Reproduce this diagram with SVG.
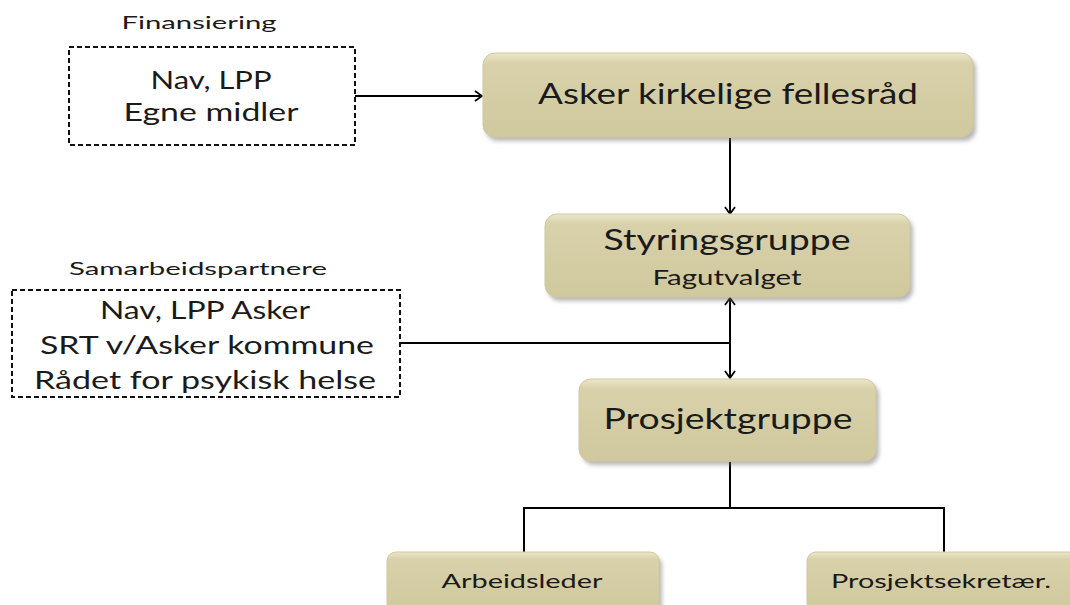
<svg xmlns="http://www.w3.org/2000/svg" width="1070" height="605" viewBox="0 0 1070 605">
<style>
text{font-family:Lato,"Open Sans","Liberation Sans",sans-serif;fill:#1a1a1a;text-anchor:middle}
.box{fill:url(#g);stroke:#cfc8a0;stroke-width:1}
.sh{fill:#6f6f6f;opacity:0.5;filter:url(#blur)}
.dash{fill:none;stroke:#111;stroke-width:2;stroke-dasharray:5 3}
.ln{fill:none;stroke:#000;stroke-width:2}
</style>
<defs>
<linearGradient id="g" x1="0" y1="0" x2="0" y2="1">
<stop offset="0" stop-color="#ece7c9"/>
<stop offset="0.12" stop-color="#d8d1aa"/>
<stop offset="1" stop-color="#d0c99e"/>
</linearGradient>
<filter id="blur" x="-10%" y="-10%" width="120%" height="130%"><feGaussianBlur stdDeviation="2"/></filter>
<marker id="arr" markerWidth="12" markerHeight="12" refX="10" refY="6" orient="auto" markerUnits="userSpaceOnUse">
<polyline points="3,1 10,6 3,11" fill="none" stroke="#000" stroke-width="1.8"/>
</marker>
</defs>

<g id="connectors">
<line class="ln" x1="355" y1="96" x2="482" y2="96" marker-end="url(#arr)"/>
<line class="ln" x1="730" y1="138" x2="730" y2="214" marker-end="url(#arr)"/>
<line class="ln" x1="400" y1="343" x2="730" y2="343"/>
<line class="ln" x1="730" y1="343" x2="730" y2="298" marker-end="url(#arr)"/>
<line class="ln" x1="730" y1="343" x2="730" y2="378" marker-end="url(#arr)"/>
<polyline class="ln" points="730,462 730,508"/>
<polyline class="ln" points="524,552 524,508 944,508 944,552"/>
</g>

<g id="finansiering">
<text x="199" y="29" font-size="17" textLength="155" lengthAdjust="spacingAndGlyphs">Finansiering</text>
<rect class="dash" x="69" y="47" width="286" height="98"/>
<text x="211" y="89" font-size="25" textLength="121" lengthAdjust="spacingAndGlyphs">Nav, LPP</text>
<text x="211" y="121" font-size="25" textLength="175" lengthAdjust="spacingAndGlyphs">Egne midler</text>
</g>

<g id="samarbeid">
<text x="198" y="275" font-size="17" textLength="258" lengthAdjust="spacingAndGlyphs">Samarbeidspartnere</text>
<rect class="dash" x="12" y="290" width="388" height="107"/>
<text x="205" y="319" font-size="25" textLength="210" lengthAdjust="spacingAndGlyphs">Nav, LPP Asker</text>
<text x="207" y="354" font-size="25" textLength="334" lengthAdjust="spacingAndGlyphs">SRT v/Asker kommune</text>
<text x="205" y="389" font-size="25" textLength="342" lengthAdjust="spacingAndGlyphs">Rådet for psykisk helse</text>
</g>

<g id="asker">
<rect class="sh" x="486" y="57" width="490" height="84" rx="12"/>
<rect class="box" x="483" y="53" width="490" height="84" rx="12"/>
<text x="728" y="104" font-size="29" textLength="380" lengthAdjust="spacingAndGlyphs">Asker kirkelige fellesråd</text>
</g>

<g id="styringsgruppe">
<rect class="sh" x="548" y="218" width="365" height="83" rx="12"/>
<rect class="box" x="545" y="214" width="365" height="83" rx="12"/>
<text x="727" y="250" font-size="29" textLength="247" lengthAdjust="spacingAndGlyphs">Styringsgruppe</text>
<text x="727" y="285" font-size="21" textLength="149" lengthAdjust="spacingAndGlyphs">Fagutvalget</text>
</g>

<g id="prosjektgruppe">
<rect class="sh" x="582" y="383" width="297" height="82" rx="12"/>
<rect class="box" x="579" y="379" width="297" height="82" rx="12"/>
<text x="728" y="429" font-size="29" textLength="249" lengthAdjust="spacingAndGlyphs">Prosjektgruppe</text>
</g>

<g id="arbeidsleder">
<rect class="sh" x="390" y="556" width="272" height="60" rx="9"/>
<rect class="box" x="387" y="552" width="272" height="60" rx="9"/>
<text x="522" y="588" font-size="20" textLength="161" lengthAdjust="spacingAndGlyphs">Arbeidsleder</text>
</g>

<g id="prosjektsekretaer">
<rect class="sh" x="810" y="556" width="274" height="60" rx="9"/>
<rect class="box" x="807" y="552" width="274" height="60" rx="9"/>
<text x="941" y="588" font-size="20" textLength="220" lengthAdjust="spacingAndGlyphs">Prosjektsekretær.</text>
</g>
</svg>
